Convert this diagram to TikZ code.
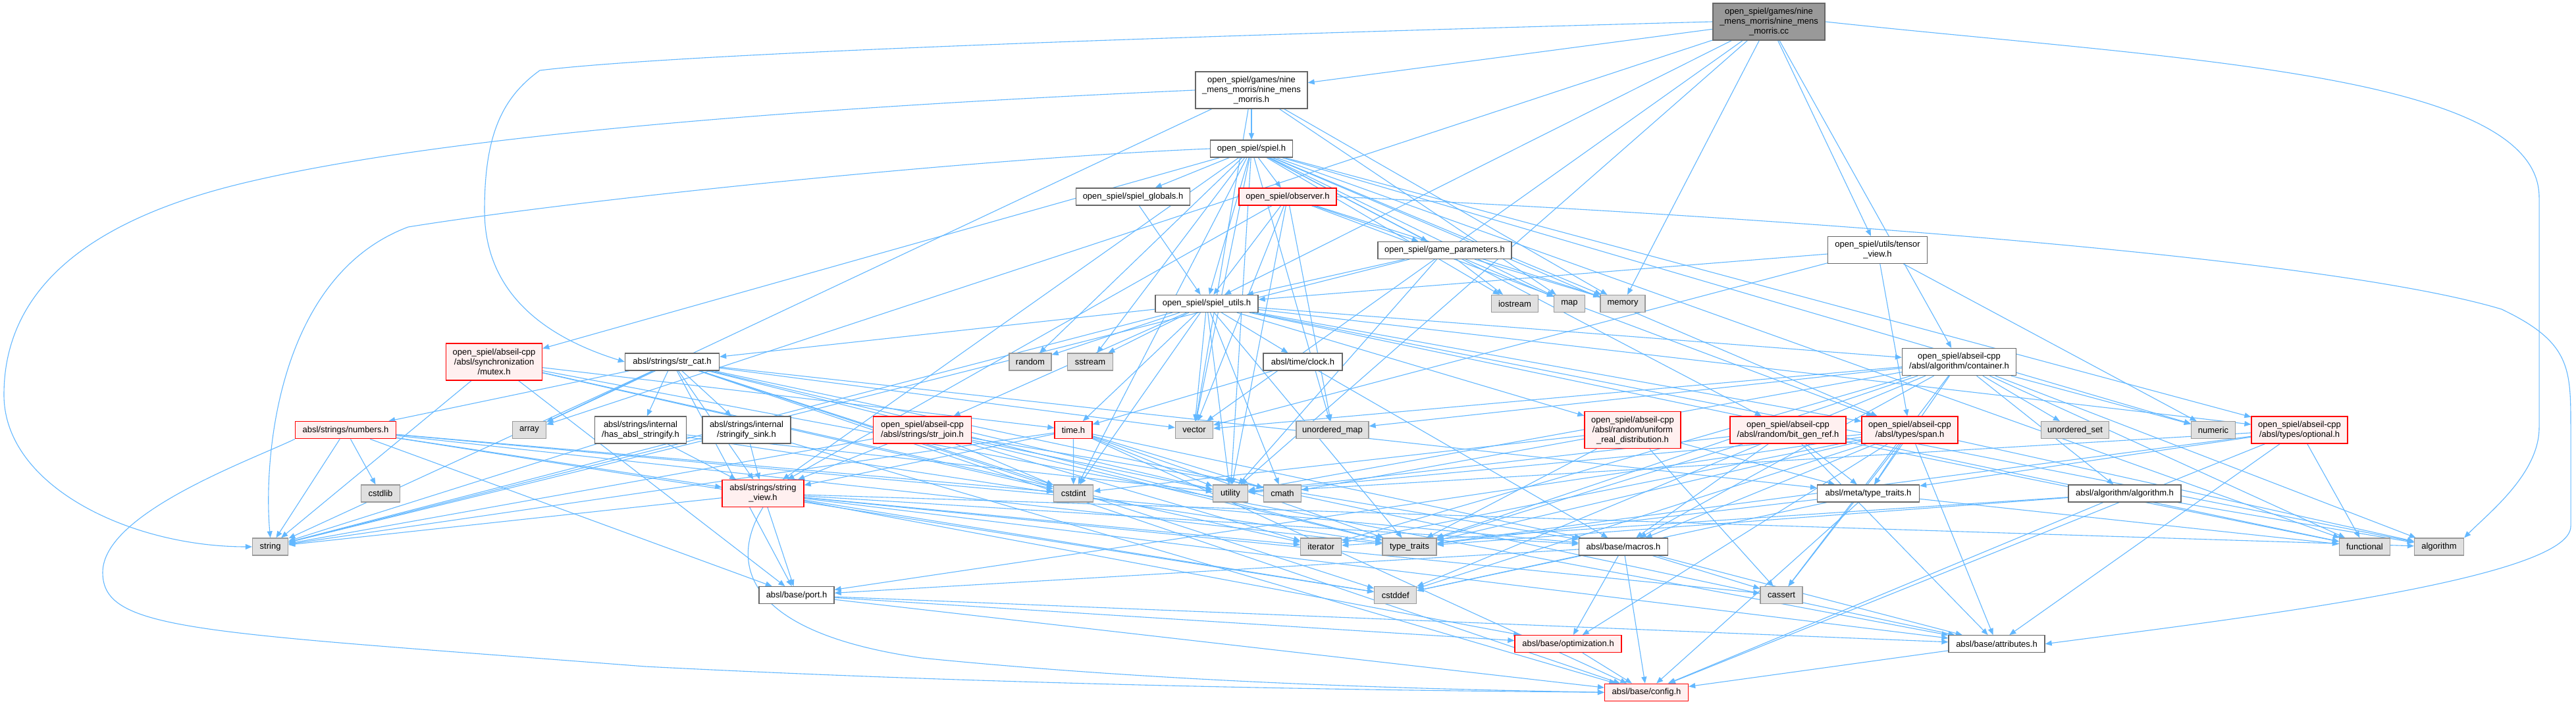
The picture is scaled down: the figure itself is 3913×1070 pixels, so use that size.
\documentclass[tikz,border=0pt]{standalone}
\usepackage{fontspec}
\setmainfont{Liberation Sans}
\usetikzlibrary{arrows.meta}
\definecolor{edgecol}{HTML}{63B8FF}
\definecolor{ndborder}{HTML}{666666}
\definecolor{sysfill}{HTML}{E0E0E0}
\definecolor{sysborder}{HTML}{999999}
\definecolor{redfill}{HTML}{FFF0F0}
\definecolor{redborder}{HTML}{FF0000}
\definecolor{rootfill}{HTML}{999999}
\pgfdeclarelayer{bg}
\pgfsetlayers{bg,main}
\newcommand\incs[2]{\foreach \tg in {#2} {\draw[inc] (#1) -- (\tg);}}
\begin{document}
\begin{tikzpicture}[x=1pt,y=-1pt,
 box/.style={rectangle, inner sep=0pt, line width=1.3pt, align=center, font=\fontsize{13pt}{15pt}\selectfont, text=black},
 nd/.style={box, draw=ndborder, fill=white},
 sys/.style={box, draw=sysborder, fill=sysfill},
 rd/.style={box, draw=redborder, fill=redfill},
 rt/.style={box, draw=ndborder, fill=rootfill},
 inc/.style={draw=edgecol, line width=1.1pt, -{Triangle[length=10pt,width=8pt]}},
 sz/.style 2 args={minimum width=#1pt, minimum height=#2pt}
]
\begin{pgfonlayer}{bg}
\fill[white] (0,0) rectangle (3913,1070);
\end{pgfonlayer}
\useasboundingbox (0,0) rectangle (3913,1070);

% nodes
\node[rt, sz={170}{56}] (root) at (2687,33) {open\_spiel/games/nine\\\_mens\_morris/nine\_mens\\\_morris.cc};
\node[nd, sz={170}{56}] (nmmh) at (1901,137) {open\_spiel/games/nine\\\_mens\_morris/nine\_mens\\\_morris.h};
\node[nd, sz={125}{26}] (spiel) at (1901,226) {open\_spiel/spiel.h};
\node[nd, sz={173}{26}] (globals) at (1721,299) {open\_spiel/spiel\_globals.h};
\node[rd, sz={148}{26}] (observer) at (1956,299) {open\_spiel/observer.h};
\node[nd, sz={203}{26}] (gparams) at (2194.5,380.5) {open\_spiel/game\_parameters.h};
\node[nd, sz={151}{41}] (tensor) at (2852,380) {open\_spiel/utils/tensor\\\_view.h};
\node[sys, sz={71}{26}] (iostream) at (2301,461.5) {iostream};
\node[sys, sz={47}{26}] (map) at (2384,461.5) {map};
\node[sys, sz={68}{26}] (memory) at (2465,461.5) {memory};
\node[nd, sz={156}{26}] (utils) at (1833,461.5) {open\_spiel/spiel\_utils.h};
\node[sys, sz={64}{26}] (random) at (1565,550) {random};
\node[sys, sz={69}{26}] (sstream) at (1656,550) {sstream};
\node[nd, sz={120}{26}] (clock) at (1979,550) {absl/time/clock.h};
\node[nd, sz={143}{26}] (strcat) at (1021,550) {absl/strings/str\_cat.h};
\node[rd, sz={146}{56}] (mutex) at (750.6,550) {open\_spiel/abseil-cpp\\/absl/synchronization\\/mutex.h};
\node[nd, sz={173}{41}] (container) at (2976,550) {open\_spiel/abseil-cpp\\/absl/algorithm/container.h};
\node[rd, sz={153}{26}] (numbers) at (525,653.7) {absl/strings/numbers.h};
\node[sys, sz={51}{26}] (array) at (804,653.7) {array};
\node[nd, sz={139}{41}] (hasstr) at (973,653.5) {absl/strings/internal\\/has\_absl\_stringify.h};
\node[nd, sz={134}{41}] (sink) at (1134,653.5) {absl/strings/internal\\/stringify\_sink.h};
\node[rd, sz={149}{41}] (strjoin) at (1401,653.5) {open\_spiel/abseil-cpp\\/absl/strings/str\_join.h};
\node[rd, sz={57}{26}] (timeh) at (1630.5,653.7) {time.h};
\node[sys, sz={57}{26}] (vector) at (1814,653.7) {vector};
\node[sys, sz={110}{26}] (umap) at (2024,653.7) {unordered\_map};
\node[rd, sz={146}{56}] (uniform) at (2480,653.7) {open\_spiel/abseil-cpp\\/absl/random/uniform\\\_real\_distribution.h};
\node[rd, sz={176}{41}] (bitgen) at (2716,653.5) {open\_spiel/abseil-cpp\\/absl/random/bit\_gen\_ref.h};
\node[rd, sz={146}{41}] (span) at (2901,653.5) {open\_spiel/abseil-cpp\\/absl/types/span.h};
\node[sys, sz={103}{26}] (uset) at (3152,653.7) {unordered\_set};
\node[sys, sz={67}{26}] (numeric) at (3362,653.7) {numeric};
\node[rd, sz={146}{41}] (optional) at (3493,653.5) {open\_spiel/abseil-cpp\\/absl/types/optional.h};
\node[sys, sz={59}{26}] (cstdlib) at (578,750) {cstdlib};
\node[rd, sz={124}{41}] (sview) at (1159,750) {absl/strings/string\\\_view.h};
\node[sys, sz={60}{26}] (cstdint) at (1630.6,750) {cstdint};
\node[sys, sz={53}{26}] (utility) at (1869,750) {utility};
\node[sys, sz={57}{26}] (cmath) at (1948,750) {cmath};
\node[nd, sz={155}{26}] (metatt) at (2838,750) {absl/meta/type\_traits.h};
\node[nd, sz={171}{26}] (algoh) at (3227.5,750) {absl/algorithm/algorithm.h};
\node[sys, sz={54}{26}] (string) at (410.6,831) {string};
\node[sys, sz={62}{26}] (iterator) at (2006.6,831) {iterator};
\node[sys, sz={82}{26}] (typetraits) at (2141,831) {type\_traits};
\node[nd, sz={135}{26}] (macros) at (2466,831) {absl/base/macros.h};
\node[sys, sz={77}{26}] (functional) at (3592,831) {functional};
\node[sys, sz={75}{26}] (algorithm) at (3705,831) {algorithm};
\node[nd, sz={114}{26}] (port) at (1210,904.7) {absl/base/port.h};
\node[sys, sz={64}{26}] (cstddef) at (2119.7,904.7) {cstddef};
\node[sys, sz={64}{26}] (cassert) at (2706,904.7) {cassert};
\node[nd, sz={146}{26}] (attributes) at (3033,978.7) {absl/base/attributes.h};
\node[rd, sz={162}{26}] (optim) at (2382,978.7) {absl/base/optimization.h};
\node[rd, sz={127}{26}] (config) at (2501,1052.3) {absl/base/config.h};

\begin{pgfonlayer}{bg}
% long routed connectors
\draw[inc] (root.west) .. controls (1600,60) and (1000,85) .. (820,107) .. controls (760,150) and (736,210) .. (736,320) .. controls (736,440) and (820,510) .. (strcat.west);
\draw[inc] (nmmh.west) .. controls (1300,160) and (700,200) .. (375,277) .. controls (150,330) and (6,430) .. (6,600) .. controls (6,740) and (200,831) .. (string.west);
\draw[inc] (spiel.west) .. controls (1500,240) and (900,300) .. (620,345) .. controls (420,420) and (400,700) .. (string.north);
\draw[inc] (numbers.south west) .. controls (380,700) and (156,780) .. (156,870) .. controls (156,960) and (300,960) .. (980,1013) .. controls (1600,1045) and (2200,1050) .. (config.west);
\draw[inc] (sview.south) .. controls (1110,850) and (1120,960) .. (1400,1000) .. controls (1800,1040) and (2200,1048) .. (config.west);
\draw[inc] (root.east) .. controls (3300,90) and (3857,110) .. (3857,300) -- (3857,650) .. controls (3857,720) and (3780,780) .. (algorithm.north east);
\draw[inc] (observer.east) .. controls (2500,320) and (3500,380) .. (3800,470) .. controls (3905,520) and (3905,560) .. (3905,650) -- (3905,800) .. controls (3905,880) and (3400,940) .. (attributes.east);

% direct connectors
\incs{root}{nmmh,array,vector,utils,memory,utility,tensor,container}
\incs{nmmh}{spiel,map,memory,array,vector}
\incs{spiel}{globals,observer,gparams,utils,mutex,sview,bitgen,span,optional,iostream,map,memory,random,sstream,umap,utility,vector,cstdint,numeric,functional}
\incs{globals}{utils}
\incs{observer}{gparams,utils,memory,umap,vector,span,sview,utility}
\incs{gparams}{iostream,map,memory,utils,string,utility}
\incs{tensor}{utils,vector,span,numeric}
\incs{utils}{random,sstream,clock,timeh,vector,strcat,strjoin,string,cstdint,cmath,utility,typetraits,uniform,container,span,optional,algorithm,functional}
\incs{clock}{timeh,macros}
\incs{strcat}{array,numbers,hasstr,sink,sview,string,vector,utility,cstdint,cstddef,typetraits,port,attributes,metatt,config}
\incs{mutex}{string,cstdint,iterator,timeh,attributes,port}
\incs{numbers}{cstdlib,string,sview,cstddef,cstdint,typetraits,macros,port}
\incs{hasstr}{string,sview,typetraits,utility}
\incs{sink}{string,sview,config}
\incs{strjoin}{string,sview,iterator,typetraits,utility,macros,cstdint}
\incs{timeh}{cstdint,cmath,string,sview,utility,typetraits,macros,config}
\incs{uniform}{cassert,cmath,cstdint,typetraits,metatt}
\incs{bitgen}{functional,typetraits,utility,attributes,macros,metatt}
\incs{span}{algorithm,cassert,cstddef,iterator,typetraits,utility,attributes,macros,optim,port,metatt}
\incs{container}{algorithm,cassert,cstddef,functional,iterator,numeric,typetraits,umap,uset,utility,vector,algoh,macros,metatt}
\incs{optional}{functional,typetraits,utility,metatt,attributes,config}
\incs{sview}{string,cstddef,iterator,cassert,algorithm,port,macros,optim,attributes}
\incs{metatt}{cstddef,functional,typetraits,config}
\incs{algoh}{algorithm,iterator,typetraits,config}
\incs{macros}{cstddef,cassert,optim,config,attributes,port}
\incs{port}{attributes,optim,config}
\incs{optim}{config}
\incs{attributes}{config}
\end{pgfonlayer}
\end{tikzpicture}
\end{document}
